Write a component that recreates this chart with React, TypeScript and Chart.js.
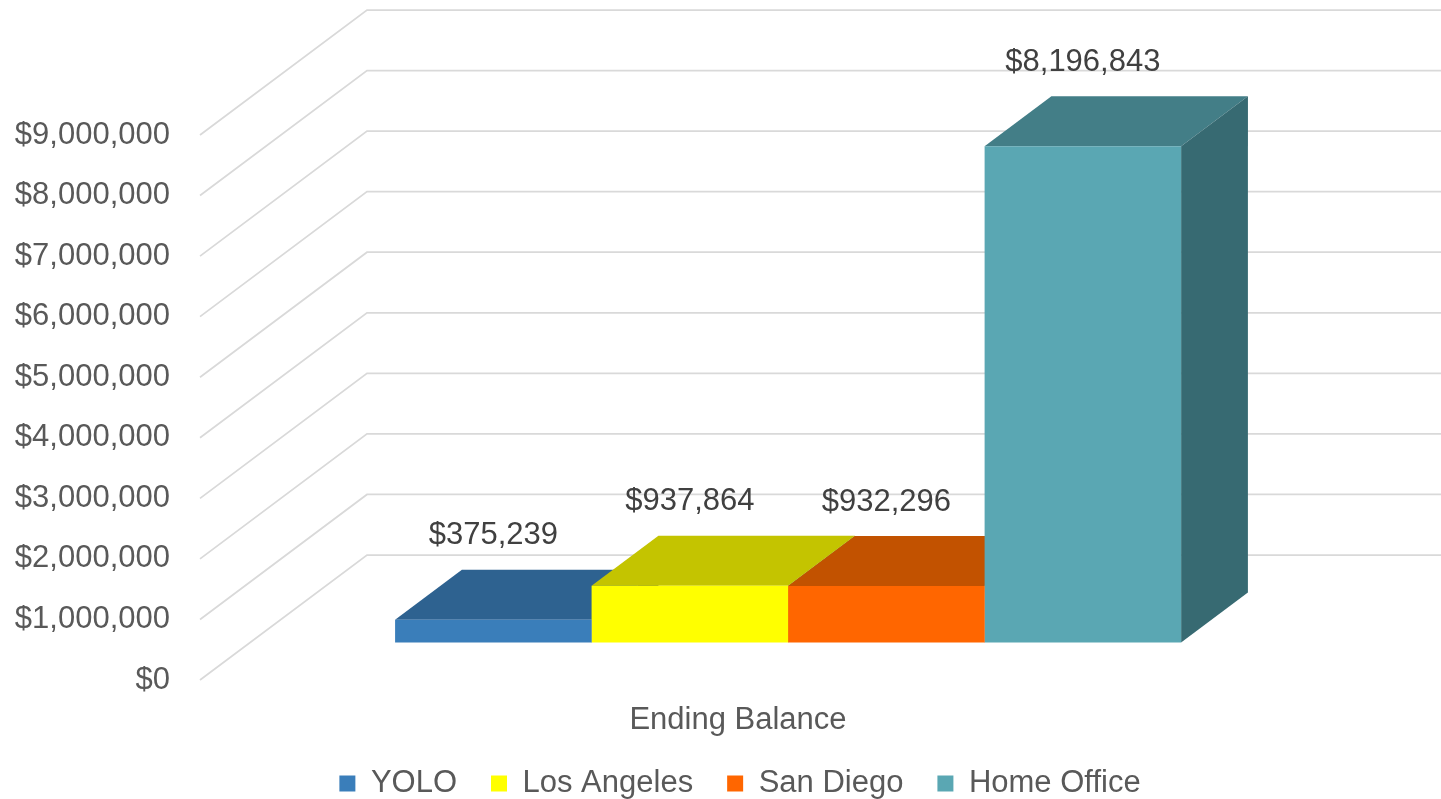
import React, { useEffect, useRef } from 'react';
import { Chart, registerables } from 'chart.js';

Chart.register(...registerables);

// ---- data ----
const categories = ['Ending Balance'];
const seriesNames = ['YOLO', 'Los Angeles', 'San Diego', 'Home Office'];
const seriesValues = [375239, 937864, 932296, 8196843];
const frontColors = ['#3A7EBA', '#FFFF00', '#FF6600', '#5AA7B3'];
const topColors = ['#2E6290', '#C4C400', '#C25200', '#437E87'];
const sideColors = ['#24496B', '#9A9A00', '#993F00', '#376A72'];
const yMin = 0;
const yMax = 9000000;
const yStep = 1000000;

// ---- 3D geometry (pixels) ----
const DEPTH_X = 167;
const DEPTH_Y = -125;
const BAR_FRONT = 0.3;
const BAR_DEPTH = 0.4;

const FONT = "'Liberation Sans', Arial, sans-serif";
const fmt = (v: number) => '$' + Math.round(v).toLocaleString('en-US');

function poly(ctx: CanvasRenderingContext2D, pts: number[][]) {
  ctx.beginPath();
  ctx.moveTo(pts[0][0], pts[0][1]);
  for (let i = 1; i < pts.length; i++) ctx.lineTo(pts[i][0], pts[i][1]);
  ctx.closePath();
  ctx.fill();
}

const threeD = {
  id: 'threeD',
  beforeDatasetsDraw(chart: any) {
    const { ctx, chartArea, scales } = chart;
    const ys = scales.y;
    ctx.save();
    ctx.strokeStyle = '#D9D9D9';
    ctx.lineWidth = 1.75;
    ys.ticks.forEach((t: any) => {
      const py = ys.getPixelForValue(t.value);
      ctx.beginPath();
      ctx.moveTo(chartArea.left, py);
      ctx.lineTo(chartArea.left + DEPTH_X, py + DEPTH_Y);
      ctx.lineTo(chart.width, py + DEPTH_Y);
      ctx.stroke();
    });
    const tx = DEPTH_X * BAR_FRONT;
    const ty = DEPTH_Y * BAR_FRONT;
    const dx = DEPTH_X * BAR_DEPTH;
    const dy = DEPTH_Y * BAR_DEPTH;
    chart.data.datasets.forEach((_ds: any, i: number) => {
      const meta = chart.getDatasetMeta(i);
      meta.data.forEach((el: any) => {
        const { x, y, base, width } = el.getProps(['x', 'y', 'base', 'width'], true);
        const L = x - width / 2 + tx;
        const R = x + width / 2 + tx;
        const T = y + ty;
        const B = base + ty;
        ctx.fillStyle = topColors[i];
        poly(ctx, [[L, T], [R, T], [R + dx, T + dy], [L + dx, T + dy]]);
        ctx.fillStyle = sideColors[i];
        poly(ctx, [[R, T], [R + dx, T + dy], [R + dx, B + dy], [R, B]]);
      });
    });
    ctx.restore();
    ctx.save();
    ctx.translate(tx, ty);
  },
  afterDatasetsDraw(chart: any) {
    const { ctx } = chart;
    ctx.restore();
    const tx = DEPTH_X * BAR_FRONT;
    const ty = DEPTH_Y * BAR_FRONT;
    ctx.save();
    ctx.font = `31px ${FONT}`;
    ctx.fillStyle = '#404040';
    ctx.textAlign = 'center';
    ctx.textBaseline = 'middle';
    chart.data.datasets.forEach((ds: any, i: number) => {
      const meta = chart.getDatasetMeta(i);
      meta.data.forEach((el: any, j: number) => {
        const { x, y } = el.getProps(['x', 'y'], true);
        ctx.fillText(fmt(ds.data[j]), x + tx, y + ty - 84);
      });
    });
    ctx.restore();
  },
};

export default function App() {
  const ref = useRef<HTMLCanvasElement>(null);
  useEffect(() => {
    if (!ref.current) return;
    const chart = new Chart(ref.current, {
      type: 'bar',
      data: {
        labels: categories,
        datasets: seriesNames.map((name, i) => ({
          label: name,
          data: [seriesValues[i]],
          backgroundColor: frontColors[i],
          borderWidth: 0,
          categoryPercentage: 0.7305,
          barPercentage: 1,
          clip: false as any,
        })),
      },
      options: {
        responsive: false,
        animation: false,
        events: [],
        layout: { padding: { top: 135, left: 0, right: 0, bottom: 0 } },
        font: { family: FONT },
        plugins: {
          tooltip: { enabled: false },
          legend: {
            position: 'bottom',
            labels: {
              boxWidth: 16,
              boxHeight: 16,
              padding: 34,
              color: '#595959',
              font: { size: 31, family: FONT },
            },
          },
        },
        scales: {
          x: {
            grid: { display: false, drawTicks: false },
            border: { display: false },
            ticks: { color: '#595959', font: { size: 31, family: FONT }, padding: 22 },
            afterFit: (s: any) => {
              s.height = 54;
              // let the category label's descenders overflow the axis box
              s._computeLabelArea = () => undefined;
            },
          },
          y: {
            position: 'left',
            min: yMin,
            max: yMax,
            grid: { display: false, drawTicks: false },
            border: { display: false },
            ticks: {
              stepSize: yStep,
              padding: 30,
              color: '#595959',
              font: { size: 31, family: FONT },
              callback: (v: any) => fmt(Number(v)),
            },
            afterFit: (s: any) => { s.width = 200; },
          },
          y2: {
            position: 'right',
            grid: { display: false, drawTicks: false },
            border: { display: false },
            ticks: { display: false },
            afterFit: (s: any) => { s.width = 204; },
          },
        },
      } as any,
      plugins: [threeD],
    });
    return () => chart.destroy();
  }, []);
  return (
    <div style={{ position: 'fixed', left: 0, top: 0, width: 1480, height: 809, background: '#fff' }}>
      <canvas ref={ref} width={1480} height={809} style={{ display: 'block' }} />
    </div>
  );
}
